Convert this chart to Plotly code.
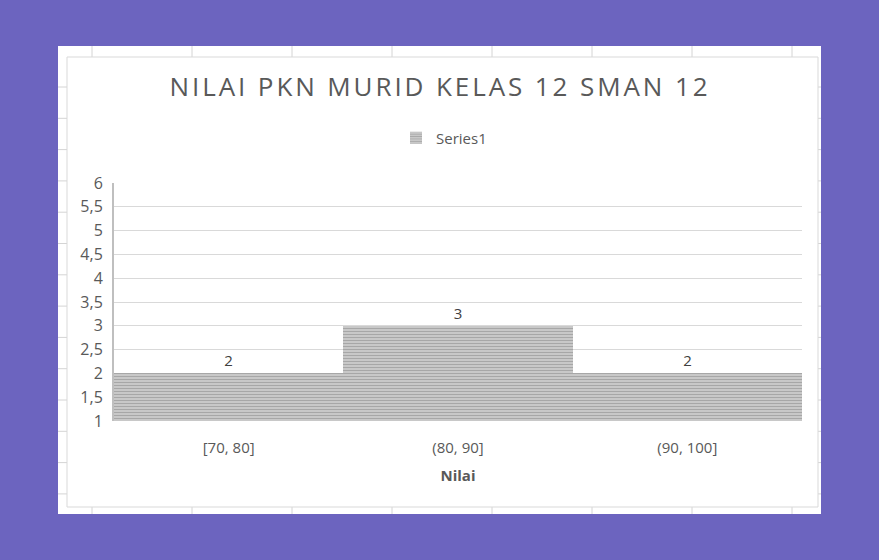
import plotly.graph_objects as go

categories = ["[70, 80]", "(80, 90]", "(90, 100]"]
values = [2, 3, 2]
series_name = "Series1"
title_text = "NILAI PKN MURID KELAS 12 SMAN 12"
x_title = "Nilai"
y_ticks = [1, 1.5, 2, 2.5, 3, 3.5, 4, 4.5, 5, 5.5, 6]

W, H = 879, 560
L, R, T, B = 114, 802, 183, 421
pw, ph = R - L, B - T

def px(x):
    return (x - L) / pw

def py(y):
    return (B - y) / ph

PURPLE = "#6c64bf"
TXT = "#595959"
FONT = "Open Sans"

fig = go.Figure()
fig.add_trace(go.Bar(
    x=categories, y=values, name=series_name,
    marker=dict(color="#c4c4c4", line=dict(width=0),
                pattern=dict(shape="-", fgcolor="#808080", bgcolor="#cfcfcf",
                             size=3, solidity=0.45)),
    text=[str(v) for v in values], textposition="outside",
    textfont=dict(size=15, color="#404040", family=FONT),
    cliponaxis=False, showlegend=True,
))

shapes = []
shapes.append(dict(type="rect", xref="paper", yref="paper",
                   x0=px(58), x1=px(821), y0=py(514), y1=py(46),
                   fillcolor="white", line=dict(width=0), layer="below"))
gcol = "#d4d4d4"
for gx in range(92, 800, 100):
    shapes.append(dict(type="line", xref="paper", yref="paper",
                       x0=px(gx), x1=px(gx), y0=py(46), y1=py(57),
                       line=dict(color=gcol, width=1), layer="below"))
    shapes.append(dict(type="line", xref="paper", yref="paper",
                       x0=px(gx), x1=px(gx), y0=py(507), y1=py(514),
                       line=dict(color=gcol, width=1), layer="below"))
k = 0
while 87 + 31.3 * k < 510:
    gy = 87 + 31.3 * k
    shapes.append(dict(type="line", xref="paper", yref="paper",
                       x0=px(58), x1=px(67), y0=py(gy), y1=py(gy),
                       line=dict(color=gcol, width=1), layer="below"))
    shapes.append(dict(type="line", xref="paper", yref="paper",
                       x0=px(818), x1=px(821), y0=py(gy), y1=py(gy),
                       line=dict(color=gcol, width=1), layer="below"))
    k += 1
shapes.append(dict(type="rect", xref="paper", yref="paper",
                   x0=px(67), x1=px(818), y0=py(507), y1=py(57),
                   fillcolor="rgba(0,0,0,0)", line=dict(color="#d9d9d9", width=1),
                   layer="below"))

fig.update_layout(
    width=W, height=H,
    margin=dict(l=L, r=W - R, t=T, b=H - B, pad=0),
    paper_bgcolor=PURPLE, plot_bgcolor="white",
    separators=",.",
    bargap=0,
    shapes=shapes,
    font=dict(family=FONT, color=TXT, size=15),
    title=dict(text=title_text, x=440 / W, xanchor="center", y=1 - 87 / H, yanchor="middle",
               font=dict(family=FONT, size=26, color=TXT)),
    legend=dict(orientation="h", x=px(444), xanchor="center", y=py(138), yanchor="middle",
                font=dict(size=15, color=TXT), bgcolor="rgba(0,0,0,0)",
                itemwidth=30),
    xaxis=dict(showgrid=False, showline=False, ticks="", tickfont=dict(size=15, color=TXT),
               ticklabelstandoff=16,
               title=dict(text="<b>" + x_title + "</b>", font=dict(size=15, color=TXT), standoff=14)),
    yaxis=dict(range=[1, 6], tickvals=y_ticks, showgrid=True, gridcolor="#d9d9d9", gridwidth=1,
               showline=True, linecolor="#bfbfbf", linewidth=2, zeroline=False, ticks="",
               tickfont=dict(size=16, color=TXT), ticklabelstandoff=6),
)

post = """
document.body.style.margin='0';
document.body.style.background='%s';
var st=document.createElement('style');
st.textContent='.gtitle{letter-spacing:2.9px;}';
document.head.appendChild(st);
""" % PURPLE

fig.write_html("out.html", post_script=post, config={"displayModeBar": False})
